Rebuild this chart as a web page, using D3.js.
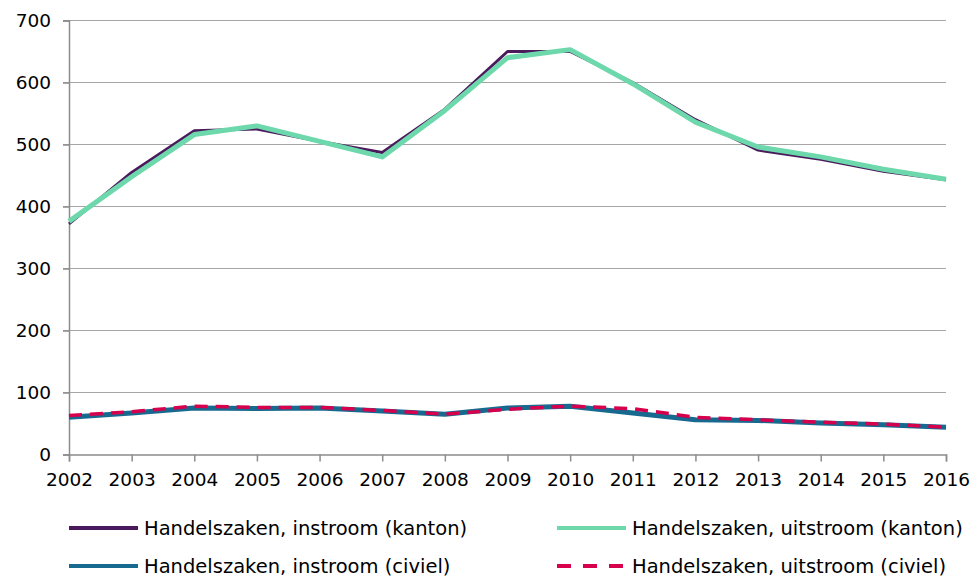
<!DOCTYPE html>
<html>
<head>
<meta charset="utf-8">
<script src="https://cdn.jsdelivr.net/npm/d3@7"></script>
<style>
  body { margin: 0; background: #fff; }
  text { font-family: Verdana, "DejaVu Sans", sans-serif; fill: #000; }
</style>
</head>
<body>
<script>
var years = [2002, 2003, 2004, 2005, 2006, 2007, 2008, 2009, 2010, 2011, 2012, 2013, 2014, 2015, 2016];
var yTicks = [0, 100, 200, 300, 400, 500, 600, 700];

var instroomKanton = [372, 455, 522, 525, 505, 487, 557, 650, 650, 600, 540, 491, 476, 457, 443];
var uitstroomKanton = [376, 448, 516, 530, 505, 480, 555, 640, 653, 598, 536, 496, 480, 460, 444];
var instroomCiviel = [60, 67, 75, 74, 75, 70, 65, 75, 78, 67, 56, 55, 51, 48, 44];
var uitstroomCiviel = [63, 69, 78, 76, 76, 71, 65, 73, 78, 74, 60, 56, 52, 49, 44];

var series = [
  { name: 'Handelszaken, instroom (kanton)', values: instroomKanton, color: '#4a1a5c', width: 3, dash: null, legendDash: null },
  { name: 'Handelszaken, uitstroom (kanton)', values: uitstroomKanton, color: '#6dd8ab', width: 5, dash: null, legendDash: null },
  { name: 'Handelszaken, instroom (civiel)', values: instroomCiviel, color: '#17698f', width: 5, dash: null, legendDash: null },
  { name: 'Handelszaken, uitstroom (civiel)', values: uitstroomCiviel, color: '#d6004c', width: 3.5, dash: '13,8', legendDash: '14,12' }
];

var width = 976, height = 577;
var m = { left: 69, right: 946, top: 20.5, bottom: 454.5 };

var svg = d3.select('body').append('svg')
  .attr('width', width)
  .attr('height', height);

var x = d3.scaleLinear().domain([2002, 2016]).range([m.left, m.right]);
var y = d3.scaleLinear().domain([0, 700]).range([m.bottom, m.top]);

// gridlines
svg.append('g')
  .selectAll('line')
  .data(yTicks.slice(1))
  .enter().append('line')
  .attr('x1', m.left - 6)
  .attr('x2', m.right)
  .attr('y1', function(d) { return y(d); })
  .attr('y2', function(d) { return y(d); })
  .attr('stroke', '#a6a6a6')
  .attr('stroke-width', 1.2);

var yAxis = svg.append('g')
  .attr('transform', 'translate(' + m.left + ',0)')
  .call(d3.axisLeft(y).tickValues(yTicks).tickSize(6).tickPadding(12).tickFormat(d3.format('d')));

var xAxis = svg.append('g')
  .attr('transform', 'translate(0,' + m.bottom + ')')
  .call(d3.axisBottom(x).tickValues(years).tickSize(7).tickPadding(11).tickFormat(d3.format('d')));

[yAxis, xAxis].forEach(function(a) {
  a.select('.domain').attr('stroke', '#8c8c8c').attr('stroke-width', 1.5);
  a.selectAll('.tick line').attr('stroke', '#8c8c8c').attr('stroke-width', 1.5);
  a.selectAll('.tick text').style('font-size', '18.5px').attr('fill', '#000');
});
yAxis.selectAll('.tick text').attr('dy', '0.35em');

var line = d3.line()
  .x(function(d, i) { return x(years[i]); })
  .y(function(d) { return y(d); });

svg.append('g')
  .selectAll('path')
  .data(series)
  .enter().append('path')
  .attr('d', function(d) { return line(d.values); })
  .attr('fill', 'none')
  .attr('stroke', function(d) { return d.color; })
  .attr('stroke-width', function(d) { return d.width; })
  .attr('stroke-dasharray', function(d) { return d.dash; })
  .attr('stroke-linejoin', 'round');

// legend
var legendPos = [[69, 528], [557, 528], [69, 566], [557, 566]];
var legend = svg.append('g')
  .selectAll('g')
  .data(series)
  .enter().append('g')
  .attr('transform', function(d, i) { return 'translate(' + legendPos[i][0] + ',' + legendPos[i][1] + ')'; });

legend.append('line')
  .attr('x1', 0).attr('x2', 69)
  .attr('stroke', function(d) { return d.color; })
  .attr('stroke-width', 4)
  .attr('stroke-dasharray', function(d) { return d.legendDash; });

legend.append('text')
  .attr('x', 75)
  .attr('dy', '0.35em')
  .style('font-size', '19.5px')
  .text(function(d) { return d.name; });
</script>
</body>
</html>
